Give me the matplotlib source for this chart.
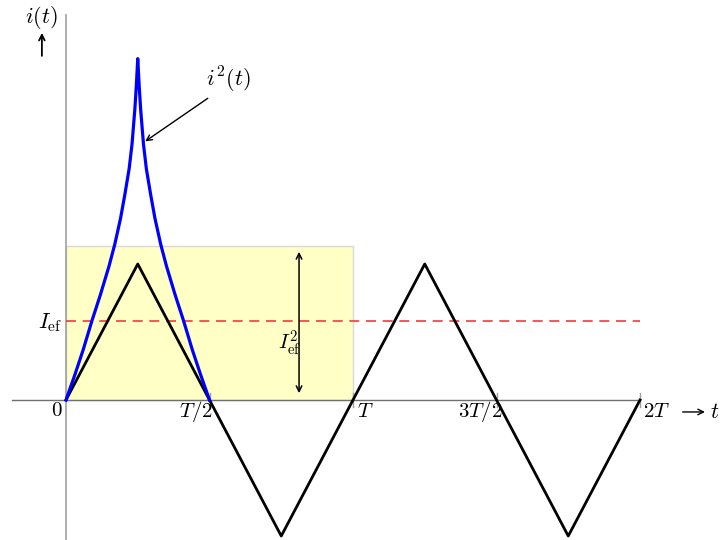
import matplotlib
matplotlib.use("Agg")
import matplotlib.pyplot as plt
from matplotlib.patches import Rectangle

plt.rcParams['mathtext.fontset'] = 'cm'
plt.rcParams['font.family'] = ['DejaVu Serif']

# onda triangular i(t), tempo em unidades de T
t_tri = [0, 0.25, 0.75, 1.25, 1.75, 2.0]
i_tri = [0, 1, -1, 1, -1, 0]

# i^2(t) no primeiro meio periodo (subida e descida)
t_quad = [0, 0.03, 0.06, 0.09, 0.12, 0.15, 0.17, 0.19, 0.205, 0.22, 0.23, 0.24, 0.245, 0.25,
          0.255, 0.26, 0.27, 0.28, 0.295, 0.31, 0.33, 0.35, 0.38, 0.41, 0.44, 0.47, 0.5]
i_quad = [0, 0.18, 0.37, 0.58, 0.775, 0.985, 1.145, 1.335, 1.51, 1.70, 1.88, 2.14, 2.31, 2.51,
          2.31, 2.14, 1.88, 1.70, 1.51, 1.335, 1.145, 0.985, 0.775, 0.58, 0.37, 0.18, 0]

i_ef = 0.58
i_ef2 = 1.13
ticks_t = [0.5, 1.0, 1.5, 2.0]
ticks_lbl = [r'$T/2$', r'$T$', r'$3T/2$', r'$2T$']
ticks_pos = [0.453, 1.042, 1.443, 2.059]

fig = plt.figure(figsize=(7.2, 5.4), dpi=100)
ax = fig.add_axes([0, 0, 1, 1])
ax.set_xlim(-66 / 287, 654 / 287)
ax.set_ylim(-140 / 136, 400 / 136)
ax.axis('off')

# retangulo de area media
ax.add_patch(Rectangle((0, 0), 1.0, i_ef2, facecolor='#ffffc6',
                       edgecolor='#d8d8d8', lw=1, zorder=1))

# eixos
ax.plot([-0.188, 2.0], [0, 0], color='#707070', lw=1, zorder=2)
ax.plot([0, 0], [-1.03, 2.83], color='#a0a0a0', lw=1.2, zorder=2)
for tk in ticks_t:
    ax.plot([tk, tk], [-0.05, 0.05], color='#a0a0a0', lw=1, zorder=2)

ax.plot([0, 2.0], [i_ef, i_ef], color='#e8413c', lw=1.2, dashes=(6, 4), zorder=3)
ax.plot(t_tri, i_tri, color='black', lw=2, zorder=4)
ax.plot(t_quad, i_quad, color='#0000ff', lw=2.3, zorder=5)

# seta dupla de I_ef^2
ax.annotate('', xy=(0.812, i_ef2 - 0.02), xytext=(0.812, 0.03),
            arrowprops=dict(arrowstyle='<->', color='black', lw=1.1), zorder=6)
ax.text(0.78, 0.42, r'$I_{\mathrm{ef}}^2$', fontsize=15, ha='center', va='center')

# rotulos
ax.text(-0.031, -0.075, r'$0$', fontsize=15, ha='center', va='center')
for p, lbl in zip(ticks_pos, ticks_lbl):
    ax.text(p, -0.085, lbl, fontsize=15, ha='center', va='center')
ax.text(2.261, -0.088, r'$t$', fontsize=16, ha='center', va='center')
ax.annotate('', xy=(2.236, -0.088), xytext=(2.139, -0.088),
            arrowprops=dict(arrowstyle='->', color='black', lw=1))
ax.text(-0.084, 2.81, r'$i(t)$', fontsize=16, ha='center', va='center')
ax.annotate('', xy=(-0.084, 2.72), xytext=(-0.084, 2.51),
            arrowprops=dict(arrowstyle='->', color='black', lw=1.3))
ax.text(-0.056, 0.57, r'$I_{\mathrm{ef}}$', fontsize=16, ha='center', va='center')
ax.text(0.564, 2.35, r'$i^2(t)$', fontsize=16, ha='center', va='center')
ax.annotate('', xy=(0.268, 1.89), xytext=(0.502, 2.23),
            arrowprops=dict(arrowstyle='->', color='black', lw=1))

fig.savefig('out.png', dpi=100)
